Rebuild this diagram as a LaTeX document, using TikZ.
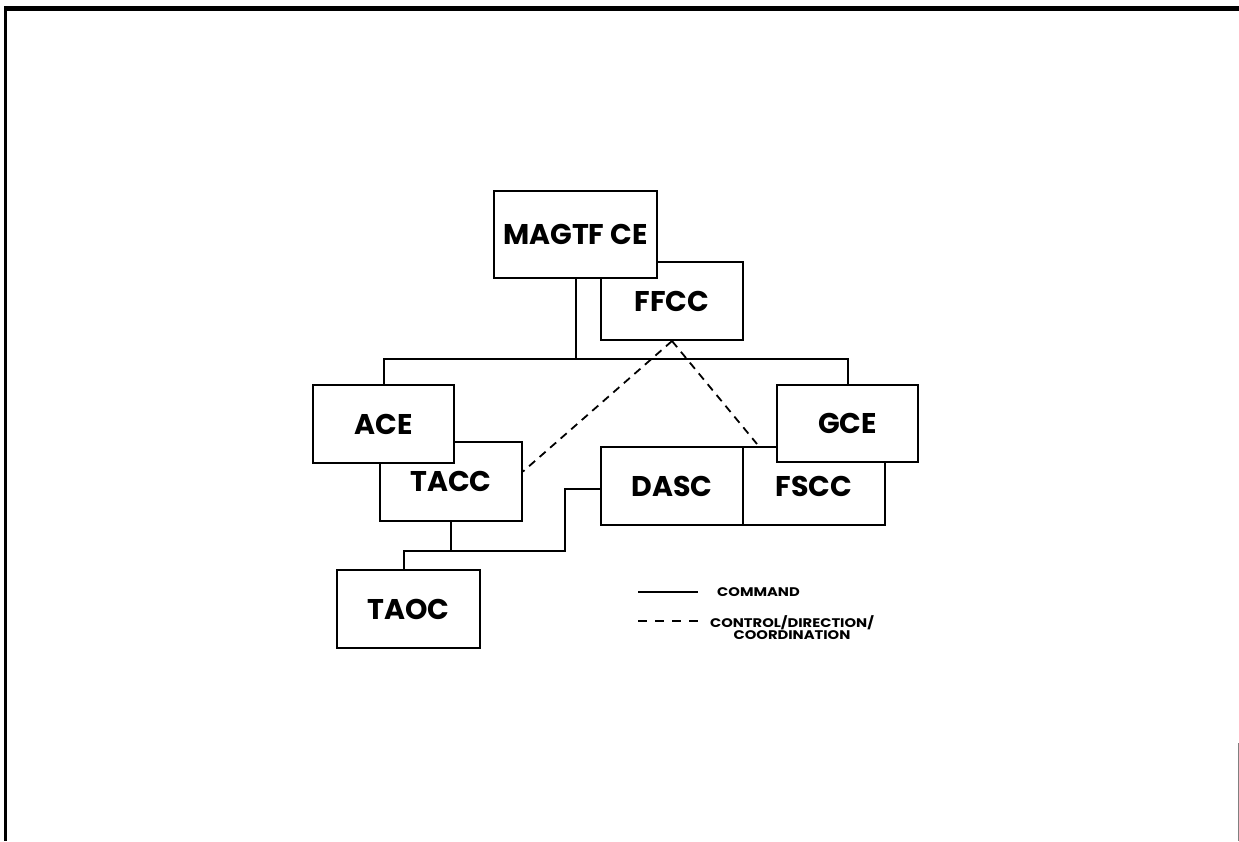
\documentclass[tikz,border=0pt]{standalone}
\usepackage{fontspec}
\setmainfont{Poppins}
\newfontfamily\legendfont{Poppins}[FakeStretch=1.18]
\usetikzlibrary{calc}
\begin{document}
\begin{tikzpicture}[x=1pt,y=-1pt,
  unit/.style={draw=black, line width=2pt, fill=white, inner sep=0pt,
    minimum width=142pt, minimum height=78pt,
    font=\fontsize{28.5}{32}\selectfont\bfseries},
  link/.style={line width=2pt},
  coord/.style={line width=1.8pt, dash pattern=on 8pt off 6pt},
  legendtext/.style={font=\legendfont\fontsize{12.5}{11.5}\selectfont\bfseries, inner sep=0pt}]
\useasboundingbox (0,0) rectangle (1239,841);

% page frame
\draw[line width=5pt] (4,8.5) -- (1239,8.5);
\draw[line width=3pt] (5,6) -- (5,841);
\draw[gray, line width=1pt] (1238,743) -- (1238,841);

% boxes (lower ones first so the upper ones overlap them)
\node[unit] (ffcc) at (672,301) {FFCC};
\node[unit, minimum width=163pt, minimum height=87pt] (magtf) at (575.5,234.5) {MAGTF CE};
\node[unit, minimum height=79pt] (tacc) at (451,481.5) {TACC};
\node[unit, minimum width=141pt] (ace) at (383.5,424) {ACE};
\node[unit] (fscc) at (814,486) {FSCC};
\node[unit] (dasc) at (672,486) {DASC};
\node[unit, minimum width=141pt, minimum height=77pt] (gce) at (847.5,423.5) {GCE};
\node[unit, minimum width=143pt] (taoc) at (408.5,609) {TAOC};

% command lines
\coordinate (bus) at (0,359);
\draw[link] (ace.north) -- (ace.north |- bus) -- (gce.north |- bus) -- (gce.north);
\draw[link] (magtf.south) -- (magtf.south |- bus);
\coordinate (elbow) at (565,551);
\draw[link] (tacc.south) -- (tacc.south |- elbow);
\draw[link] ([xshift=-5pt]taoc.north) |- (elbow) |- ([yshift=-3pt]dasc.west);

% control / direction / coordination lines
\draw[coord] (ffcc.south) -- ([yshift=10pt]tacc.east);
\draw[coord] (ffcc.south) -- ([xshift=15pt,yshift=2pt]fscc.north west);

% legend
\coordinate (la) at (638,592);
\coordinate (lb) at (698,592);
\coordinate (lc) at (638,621);
\coordinate (ld) at (698,621);
\draw[link, line width=1.4pt] (la) -- (lb);
\draw[coord, line width=1.4pt, dash pattern=on 9pt off 8pt] (lc) -- (ld);
\node[legendtext, anchor=west] (lcmd) at (717,592) {COMMAND};
\node[legendtext, anchor=north, align=center] (lctl) at (792,615.5)
  {CONTROL/DIRECTION/\\COORDINATION};
\end{tikzpicture}
\end{document}
